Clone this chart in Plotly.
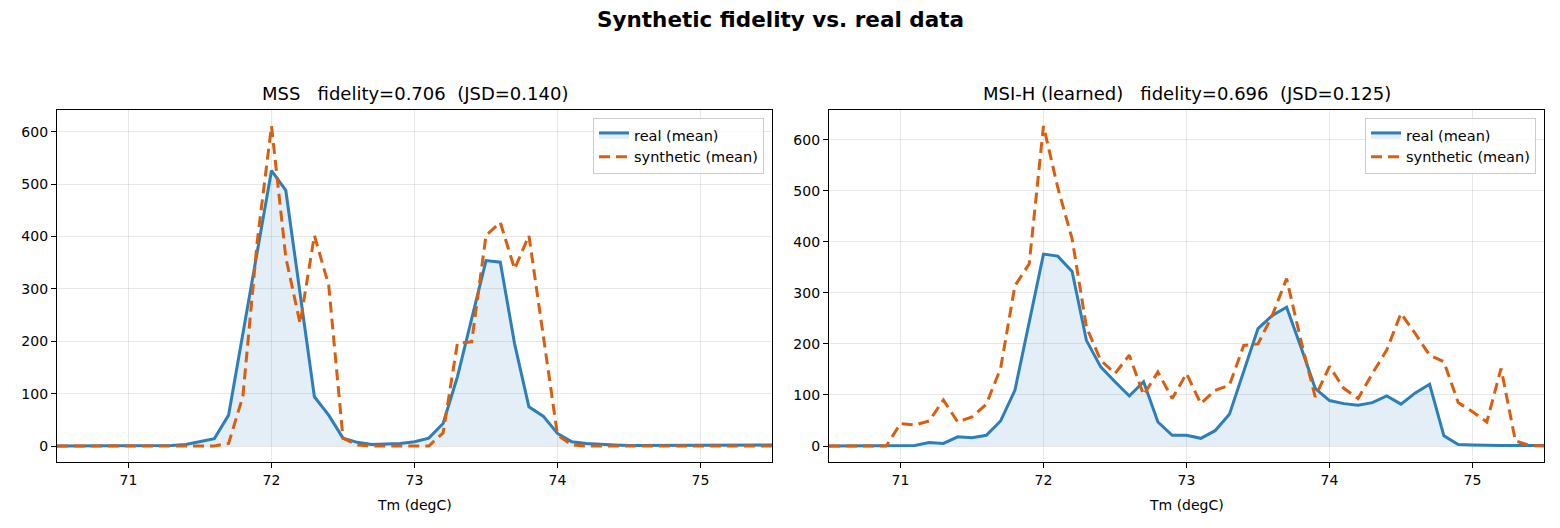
import numpy as np
import plotly.graph_objects as go

# ---- data ----
tm = [round(70.5 + 0.1 * i, 1) for i in range(51)]  # 70.5 .. 75.5

mss_real = [0, 0, 0, 0, 0, 0, 0, 0, 1, 3, 8, 14, 59, 212, 373, 526, 488, 291, 94, 59,
            15, 7, 3, 4, 5, 8, 15, 43, 132, 243, 354, 351, 195, 75, 57, 24, 8, 5, 3, 2,
            1, 1, 1, 1, 1, 1, 1, 1, 1, 1, 2]
mss_synth = [0, 0, 0, 0, 0, 0, 0, 0, 0, 0, 0, 0, 5, 95, 390, 611, 360, 234, 402, 307,
             15, 2, 0, 0, 0, 0, 0, 25, 196, 199, 402, 427, 338, 402, 215, 21, 2, 0, 0, 0,
             0, 0, 0, 0, 0, 0, 0, 0, 0, 0, 0]

msi_real = [0, 0, 0, 0, 0, 0, 1, 7, 5, 18, 16, 21, 49, 109, 243, 376, 372, 342, 207, 155,
            126, 98, 126, 47, 21, 21, 15, 30, 62, 146, 230, 256, 272, 194, 113, 89, 83, 80, 85, 98,
            82, 104, 121, 20, 3, 2, 1, 1, 1, 1, 1]
msi_synth = [0, 0, 0, 0, 0, 44, 41, 49, 90, 47, 57, 82, 152, 314, 357, 627, 506, 406, 233, 168,
             142, 178, 100, 145, 93, 142, 83, 109, 119, 197, 200, 256, 328, 207, 96, 156, 113, 93, 142, 188,
             260, 220, 178, 165, 85, 67, 47, 152, 10, 1, 0]

titles = ["MSS\u00a0\u00a0 fidelity=0.706\u00a0 (JSD=0.140)",
          "MSI-H (learned)\u00a0\u00a0 fidelity=0.696\u00a0 (JSD=0.125)"]
suptitle = "Synthetic fidelity vs. real data"
xlabel = "Tm (degC)"
xticks = [71, 72, 73, 74, 75]
yticks = [0, 100, 200, 300, 400, 500, 600]

BLUE = "#2c7fb8"
ORANGE = "#d95f0e"
FONT = "DejaVu Sans"
W, H = 1560, 528

panels = [
    dict(real=mss_real, synth=mss_synth, title=titles[0], x0=57, x1=772),
    dict(real=msi_real, synth=msi_synth, title=titles[1], x0=829, x1=1544),
]
ytop, ybot = 110, 462

fig = go.Figure()
annotations = []
for i, p in enumerate(panels):
    xa = "xaxis" if i == 0 else f"xaxis{i+1}"
    ya = "yaxis" if i == 0 else f"yaxis{i+1}"
    xref = "x" if i == 0 else f"x{i+1}"
    yref = "y" if i == 0 else f"y{i+1}"
    leg = "legend" if i == 0 else f"legend{i+1}"
    fig.add_trace(go.Scatter(x=tm, y=p["real"], mode="lines", name="real (mean)",
                             line=dict(color=BLUE, width=3), fill="tozeroy",
                             fillcolor="rgba(44,127,184,0.13)", xaxis=xref, yaxis=yref,
                             legend=leg))
    fig.add_trace(go.Scatter(x=tm, y=p["synth"], mode="lines", name="synthetic (mean)",
                             line=dict(color=ORANGE, width=3, dash="11px,6px"),
                             xaxis=xref, yaxis=yref, legend=leg))
    allv = p["real"] + p["synth"]
    lo, hi = min(allv), max(allv)
    pad = 0.05 * (hi - lo)
    dom_x = [p["x0"] / W, p["x1"] / W]
    dom_y = [(H - ybot) / H, (H - ytop) / H]
    fig.layout[xa] = dict(domain=dom_x, range=[70.5, 75.5], tickvals=xticks,
                          ticktext=[str(t) for t in xticks], anchor=yref,
                          showgrid=True, gridcolor="rgba(0,0,0,0.09)", gridwidth=1,
                          showline=True, linecolor="black", linewidth=1.2, mirror=True,
                          ticks="outside", ticklen=5, tickcolor="black", zeroline=False,
                          tickfont=dict(family=FONT, size=14, color="black"))
    fig.layout[ya] = dict(domain=dom_y, range=[lo - pad, hi + pad], tickvals=yticks,
                          anchor=xref, showgrid=True, gridcolor="rgba(0,0,0,0.09)", gridwidth=1,
                          showline=True, linecolor="black", linewidth=1.2, mirror=True,
                          ticks="outside", ticklen=5, tickcolor="black", zeroline=False,
                          tickfont=dict(family=FONT, size=14, color="black"))
    fig.layout[leg] = dict(x=(p["x1"] - 8) / W, y=(H - 118) / H, xanchor="right", yanchor="top",
                           xref="paper", yref="paper",
                           bgcolor="rgba(255,255,255,0.8)", bordercolor="#cccccc", borderwidth=1,
                           font=dict(family=FONT, size=14.5, color="black"),
                           tracegroupgap=0, itemwidth=30)
    annotations.append(dict(text=p["title"], x=(p["x0"] + p["x1"]) / 2 / W, y=(H - 94) / H,
                            xref="paper", yref="paper", showarrow=False, xanchor="center",
                            yanchor="middle", font=dict(family=FONT, size=18, color="black")))
    annotations.append(dict(text=xlabel, x=(p["x0"] + p["x1"]) / 2 / W, y=(H - 505) / H,
                            xref="paper", yref="paper", showarrow=False, xanchor="center",
                            yanchor="middle", font=dict(family=FONT, size=14, color="black")))

annotations.append(dict(text="<b>" + suptitle + "</b>", x=0.5, y=(H - 20) / H, xref="paper",
                        yref="paper", showarrow=False, xanchor="center", yanchor="middle",
                        font=dict(family=FONT, size=21.5, color="black")))

fig.update_layout(width=W, height=H, margin=dict(l=0, r=0, t=0, b=0),
                  plot_bgcolor="white", paper_bgcolor="white", annotations=annotations,
                  showlegend=True)
fig.write_html("out.html")
